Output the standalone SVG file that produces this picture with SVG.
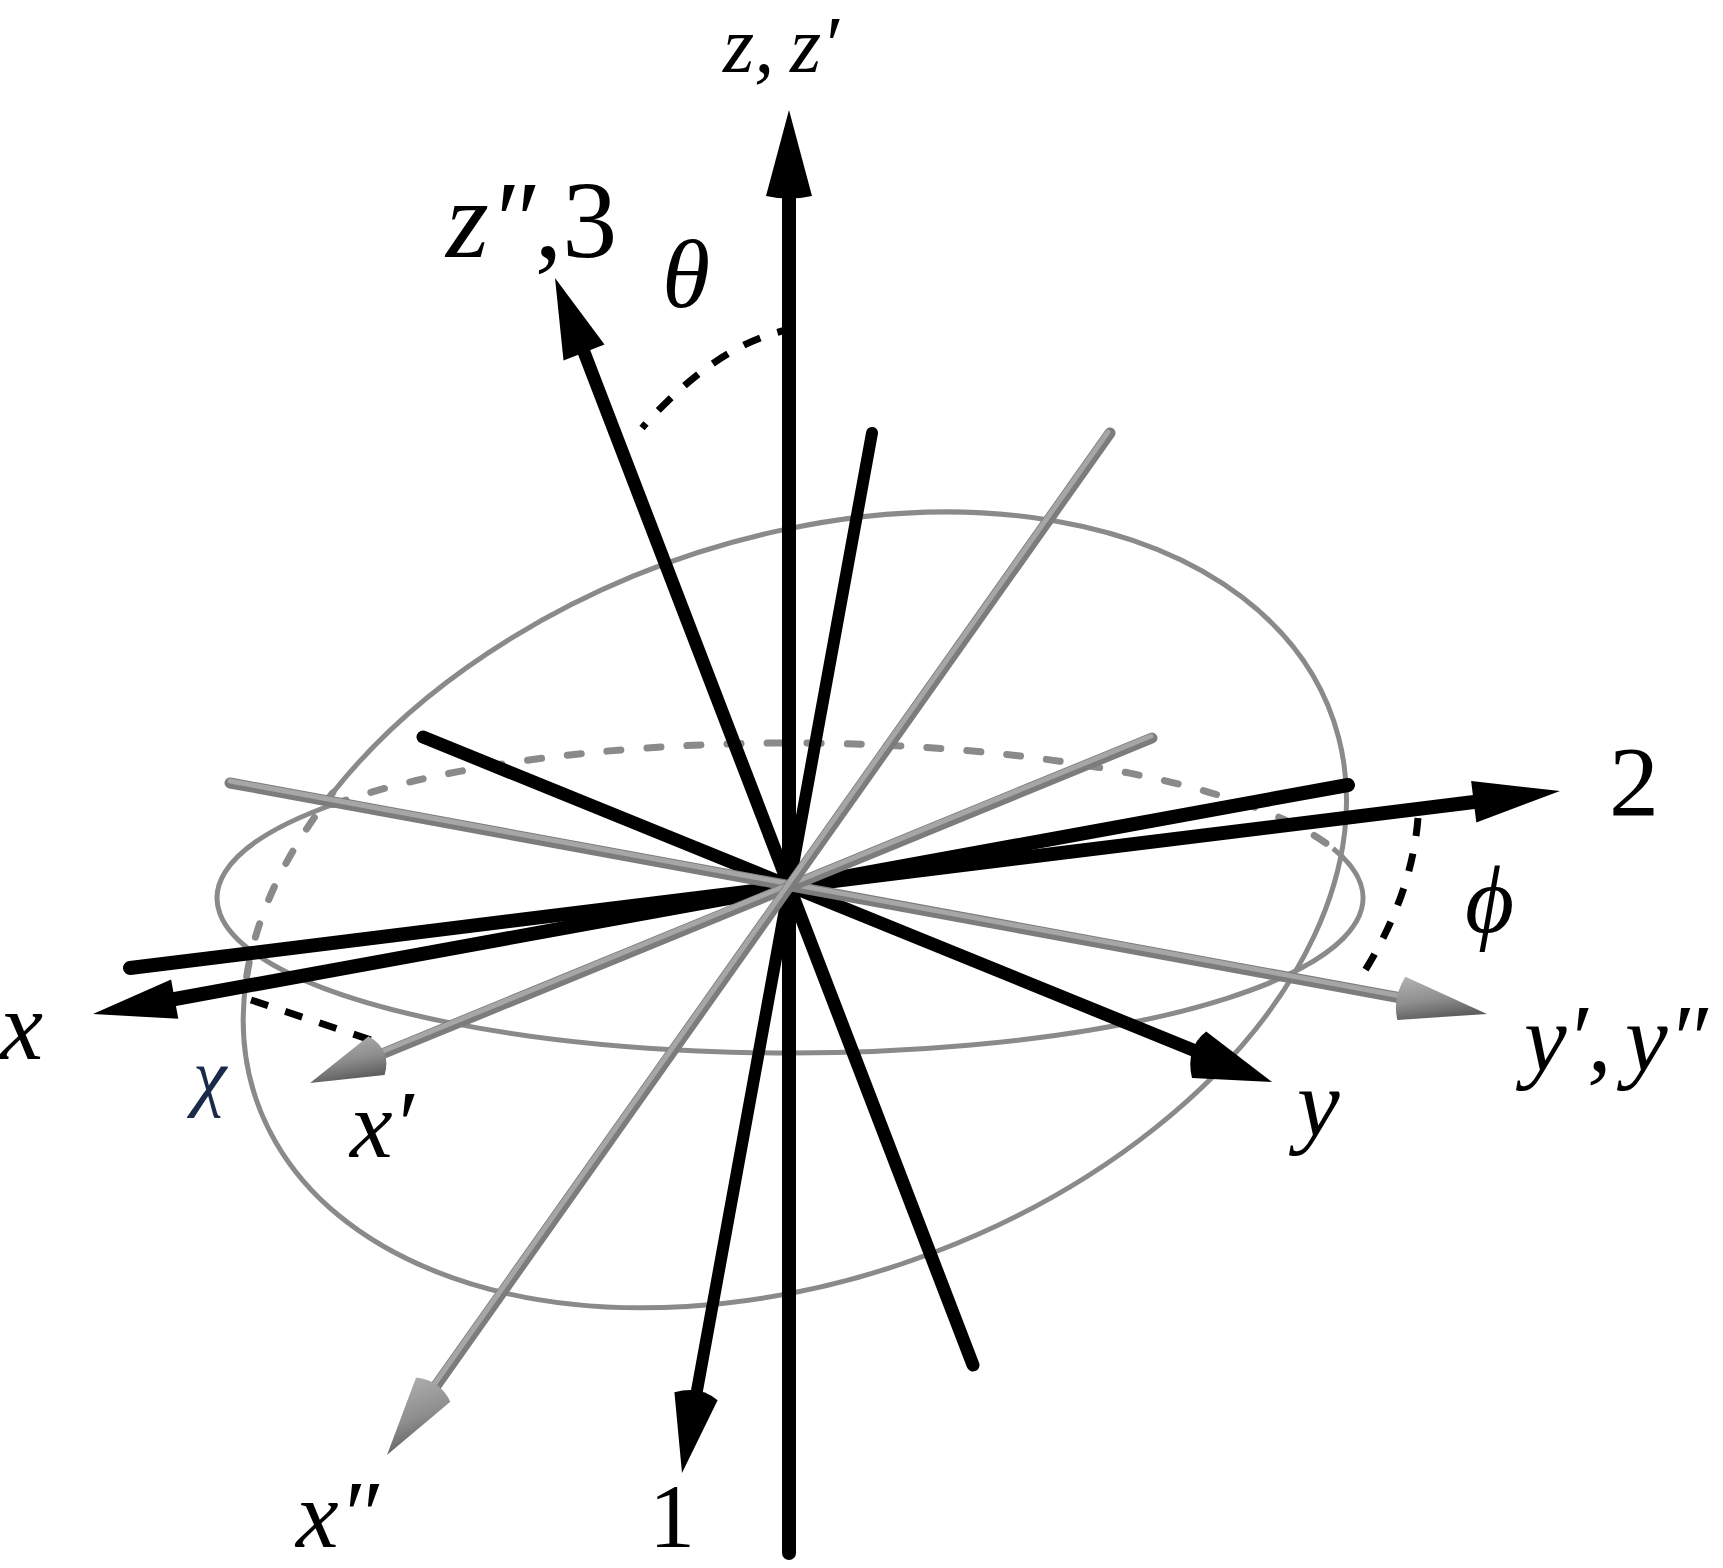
<svg xmlns="http://www.w3.org/2000/svg" width="1723" height="1568" viewBox="0 0 1723 1568">
<style>
.bk{stroke:#000;stroke-width:13;stroke-linecap:round;fill:none}
.gr{stroke:#7c7c7c;stroke-width:11;stroke-linecap:round;fill:none}
.grh{stroke:#a6a6a6;stroke-width:5;stroke-linecap:round;fill:none}
.ring{stroke:#8a8a8a;stroke-width:5;fill:none}
.ringd{stroke:#8a8a8a;stroke-width:7;fill:none;stroke-dasharray:14 26;stroke-linecap:round}
.bd{stroke:#000;stroke-width:7;fill:none;stroke-dasharray:18 18}
.ah{fill:#000}
.gh{fill:url(#cone)}
text{font-family:"Liberation Serif","DejaVu Serif",serif;font-style:italic;fill:#000}
.up{font-style:normal}
</style>
<defs>
<linearGradient id="cone" x1="0" y1="0" x2="0.3" y2="1">
<stop offset="0" stop-color="#b4b4b4"/>
<stop offset="0.6" stop-color="#8e8e8e"/>
<stop offset="1" stop-color="#5e5e5e"/>
</linearGradient>
</defs>
<rect width="1723" height="1568" fill="#fff"/>
<g id="circles">
<path class="ringd" d="M333 804.5 A573 155 0 0 1 1333 848.5"/>
<path class="ring" d="M1333 848.5 A573 155 0 1 1 333 804.5"/>
<path class="ringd" d="M246.7 976.2 A571 369.5 -19.8 0 1 332.7 792.9"/>
<path class="ring" d="M332.7 792.9 A571 369.5 -19.8 1 1 246.7 976.2"/>
</g>
<g id="angle-marks">
<path class="bd" stroke-dashoffset="8" d="M787 330 Q715.5 345 642 428"/>
<path class="bd" d="M1418 818 Q1411.5 899 1359 980"/>
<path class="bd" d="M251 1000 L377 1042"/>
</g>
<g id="connectors">
<g id="black-axes">
<line class="bk" x1="973" y1="1365" x2="584" y2="352"/>
<polygon class="ah" points="555,278 604.5,344.6 563.5,360.6"/>
<line class="bk" style="stroke-width:12" x1="872" y1="433" x2="696" y2="1396"/>
<path class="ah" d="M682 1473 L717.6 1400.3 Q700 1385 674.4 1392.3 Z"/>
<line class="bk" x1="423" y1="737" x2="1198" y2="1052"/>
<path class="ah" d="M1272 1082 L1206.2 1031.5 Q1185 1048 1192 1078 Z"/>
<line class="bk" style="stroke-width:14" x1="1348" y1="785" x2="175" y2="999"/>
<polygon class="ah" points="93,1014 178.3,1018.8 171.1,979.4"/>
<line class="bk" style="stroke-width:14" x1="130" y1="968" x2="1474" y2="802"/>
<polygon class="ah" points="1560,791 1476.3,822.5 1471.1,780.9"/>
<line class="bk" style="stroke-width:14" x1="789" y1="1553" x2="789" y2="196"/>
<path class="ah" d="M789 110 L812 196 Q789 201 766 196 Z"/>
</g>
<g id="grey-axes">
<line class="gr" x1="230" y1="783" x2="1401" y2="998"/>
<line class="grh" x1="230" y1="781" x2="1401" y2="996"/>
<path class="gh" d="M1487 1014 L1405.4 976.7 Q1392 998 1397.4 1019.9 Z"/>
<line class="gr" x1="1152" y1="738" x2="377" y2="1056"/>
<line class="grh" x1="1151" y1="736" x2="376" y2="1054"/>
<path class="gh" d="M310 1083 L368.6 1036.3 Q392 1050 384.6 1075.1 Z"/>
<line class="gr" x1="1110" y1="433" x2="433" y2="1390"/>
<line class="grh" x1="1108" y1="432" x2="431" y2="1389"/>
<path class="gh" d="M387 1455 L416.1 1377.6 Q440 1380 450.3 1401.8 Z"/>
</g>
</g>
<g id="labels">
<text id="lbl-z" x="723" y="72" font-size="80">z,<tspan x="790">z′</tspan></text>
<text id="lbl-z2" x="446" y="257" font-size="110">z″<tspan class="up">,3</tspan></text>
<text id="lbl-theta" x="662" y="307" font-size="98">θ</text>
<text id="lbl-2" class="up" x="1609" y="815" font-size="100">2</text>
<text id="lbl-phi" x="1465" y="932" font-size="95">ϕ</text>
<text id="lbl-yy" x="1524" y="1071" font-size="96">y′,<tspan x="1625">y″</tspan></text>
<text id="lbl-y" x="1297" y="1136" font-size="96">y</text>
<text id="lbl-x" x="0" y="1059" font-size="97">x</text>
<text id="lbl-chi" x="193" y="1102" font-size="76" style="fill:#1b2a4a">χ</text>
<text id="lbl-x1" x="350" y="1157" font-size="96">x′</text>
<text id="lbl-x2" x="296" y="1547" font-size="96">x″</text>
<text id="lbl-1" class="up" x="649" y="1547" font-size="92">1</text>
</g>
</svg>
